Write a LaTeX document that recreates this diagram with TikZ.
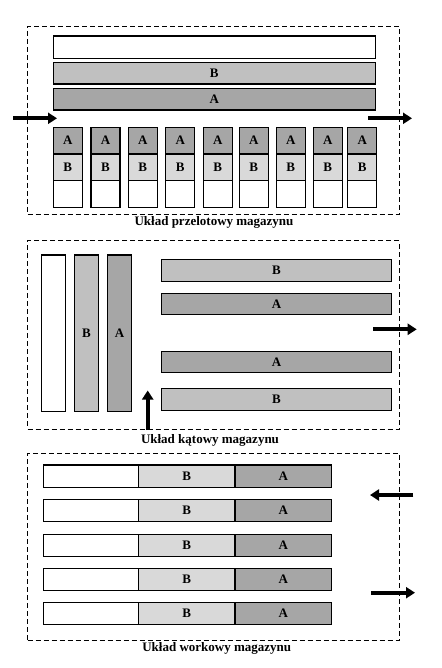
\documentclass[tikz,border=0pt]{standalone}
\usepackage{fontspec}
\setmainfont{Liberation Serif}
\usetikzlibrary{arrows.meta}
\definecolor{gA}{HTML}{A6A6A6}
\definecolor{gB}{HTML}{C0C0C0}
\definecolor{gBl}{HTML}{D9D9D9}
\begin{document}
\begin{tikzpicture}[x=1pt,y=-1pt,
  box/.style={draw=black, line width=1.1pt, inner sep=0pt, outer sep=0pt, anchor=north west,
              font=\fontsize{13}{15}\selectfont\bfseries},
  frame/.style={draw=black, line width=0.9pt, dash pattern=on 5pt off 3pt, inner sep=0pt,
                outer sep=0pt, anchor=north west, minimum width=371.6pt},
  bigarrow/.style={line width=4pt, -{Triangle[length=9pt,width=11pt]}},
  caption/.style={font=\fontsize{13}{15}\selectfont\bfseries}]
\useasboundingbox (0,0) rectangle (441,668);
\fill[white] (0,0) rectangle (441,668);

% ---------- Panel 1: przelotowy ----------
\node[frame, minimum height=188pt] (f1) at (27.7,26) {};
\node[box, fill=white, minimum width=322pt, minimum height=22.3pt] (t0) at (53.3,36) {};
\node[box, fill=gB, minimum width=322pt, minimum height=21.7pt] (tB) at (53.3,62.3) {B};
\node[box, fill=gA, minimum width=322pt, minimum height=21.7pt] (tA) at (53.3,88.3) {A};
\foreach \x [count=\i] in {53.3,91,128.3,165.7,203.3,239.3,276.3,313.3,347.7} {
  \node[box, fill=gA, minimum width=29pt, minimum height=26.7pt] (cA\i) at (\x,127.3) {A};
  \node[box, fill=gBl, minimum width=29pt, minimum height=26.7pt] (cB\i) at (\x,154) {B};
  \node[box, fill=white, minimum width=29pt, minimum height=26.6pt] (cW\i) at (\x,180.7) {};
}
\coordinate (a1s) at (13,118.3);
\coordinate (a1e) at (57,118.3);
\coordinate (a2s) at (368,118.3);
\coordinate (a2e) at (412,118.3);
\draw[bigarrow] (a1s) -- (a1e);
\draw[bigarrow] (a2s) -- (a2e);
\node[caption] (cap1) at (214,222.5) {Układ przelotowy magazynu};

% ---------- Panel 2: katowy ----------
\node[frame, minimum height=188.3pt] (f2) at (27.7,240.7) {};
\node[box, fill=white, minimum width=24.4pt, minimum height=156.7pt] (vW) at (41.3,255) {};
\node[box, fill=gB, minimum width=24.4pt, minimum height=156.7pt] (vB) at (74.3,255) {B};
\node[box, fill=gA, minimum width=24.4pt, minimum height=156.7pt] (vA) at (107.3,255) {A};
\node[box, fill=gB, minimum width=230.4pt, minimum height=22pt] (hB1) at (161.3,259.5) {B};
\node[box, fill=gA, minimum width=230.4pt, minimum height=21.5pt] (hA1) at (161.3,293.3) {A};
\node[box, fill=gA, minimum width=230.4pt, minimum height=21.5pt] (hA2) at (161.3,351.3) {A};
\node[box, fill=gB, minimum width=230.4pt, minimum height=22pt] (hB2) at (161.3,388.3) {B};
\coordinate (a3s) at (373.3,329.3);
\coordinate (a3e) at (416.7,329.3);
\draw[bigarrow] (a3s) -- (a3e);
\coordinate (a4s) at (147.7,430);
\coordinate (a4e) at (147.7,390.5);
\draw[bigarrow] (a4s) -- (a4e);
\node[caption] (cap2) at (210,440) {Układ kątowy magazynu};

% ---------- Panel 3: workowy ----------
\node[frame, minimum height=187pt] (f3) at (27.7,453.3) {};
\foreach \y [count=\i] in {465,499.3,534.3,568.3,602.3} {
  \node[box, fill=white, minimum width=95pt, minimum height=22.6pt] (rW\i) at (43.3,\y) {};
  \node[box, fill=gBl, minimum width=96.7pt, minimum height=22.6pt] (rB\i) at (138.3,\y) {B};
  \node[box, fill=gA, minimum width=96.7pt, minimum height=22.6pt] (rA\i) at (235,\y) {A};
}
\coordinate (a5s) at (413.3,495);
\coordinate (a5e) at (370,495);
\draw[bigarrow] (a5s) -- (a5e);
\coordinate (a6s) at (371,592.7);
\coordinate (a6e) at (415,592.7);
\draw[bigarrow] (a6s) -- (a6e);
\node[caption] (cap3) at (216.7,648) {Układ workowy magazynu};
\end{tikzpicture}
\end{document}
